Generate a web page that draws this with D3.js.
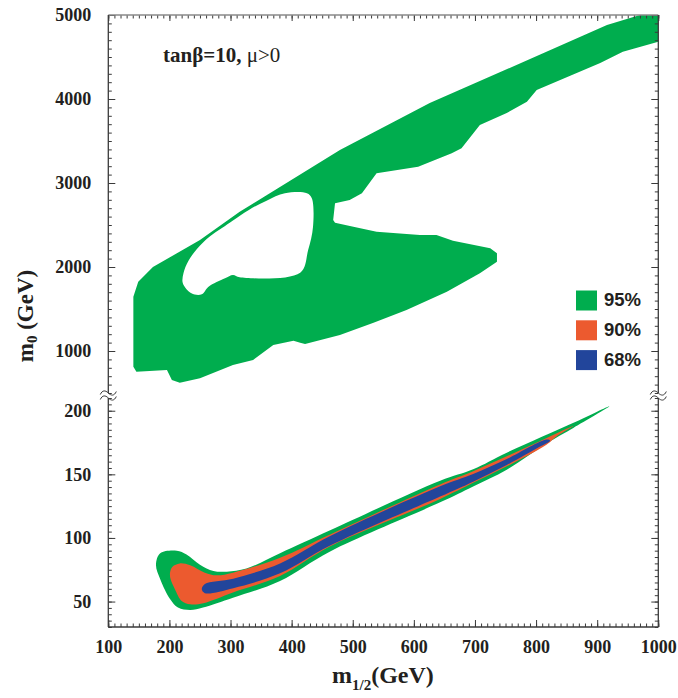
<!DOCTYPE html>
<html><head><meta charset="utf-8">
<script src="https://cdn.jsdelivr.net/npm/d3@7"></script>
<style>body{margin:0;background:#fff}svg{display:block}</style>
</head><body><svg id="c" width="678" height="698"></svg>
<script>
// ---------- data ----------
const xTicks = [100,200,300,400,500,600,700,800,900,1000];
const upperTicks = [1000,2000,3000,4000,5000];
const lowerTicks = [50,100,150,200];
const legendLabels = ["95%","90%","68%"];
const legendColors = ["#00ad4e","#ec5a2f","#22459b"];

// 95% region, upper (large m0) part: outer boundary [m1/2, m0]
const green95Upper = [[141,1646],[149,1825],[173,2000],[250,2321],[315,2658],[479,3393],[626,3952],[779,4440],[916,4881],[970,5000],[1000,5000],[1000,4682],[942,4563],[905,4429],[801,4107],[785,3968],[752,3833],[708,3690],[678,3413],[662,3354],[607,3194],[539,3115],[515,2877],[495,2798],[471,2758],[468,2560],[471,2527],[501,2480],[539,2420],[610,2381],[637,2381],[664,2313],[725,2223],[736,2163],[736,2063],[708,1925],[654,1706],[588,1488],[534,1337],[479,1190],[422,1083],[414,1099],[403,1123],[370,1071],[337,893],[304,833],[250,675],[217,622],[204,655],[196,774],[146,754],[141,813],[141,1210]];
// hole inside the upper 95% region
const green95UpperHole = [[223,1925],[222,1806],[236,1687],[253,1675],[264,1765],[291,1865],[304,1905],[315,1877],[414,1932],[427,2202],[435,2480],[433,2818],[425,2877],[389,2877],[359,2790],[330,2680],[304,2554],[286,2464],[266,2363],[245,2215],[231,2070]];
// lower (small m0) part
const green95Lower = [[178,79],[185,88],[212,90],[228,87],[250,79],[272,74],[294,73.5],[326,76],[381,88],[463,106],[643,145],[697,154],[752,167],[866,191.5],[920,203.5],[861,186.5],[823,176],[752,153.7],[697,140.5],[643,128],[463,89.4],[381,66.2],[304,53],[255,45.3],[234,43.4],[214,45.3],[201,52],[185,67.5]];
const orange90 = [[201,72.7],[205,77.4],[217,80],[234,78.5],[258,72.7],[277,70.6],[304,72.7],[381,84.5],[463,102.8],[643,142],[697,152.4],[752,164.2],[806,176],[861,188],[834,180],[817,173.3],[752,156.3],[697,143.3],[643,130.6],[463,93.4],[381,70.1],[304,57.1],[255.5,48.7],[234,47.9],[220,50.5],[209,59.7],[202,67.5]];
const blue68 = [[253,59.6],[258,63.8],[304.5,68],[381,80],[463,101.5],[643,140.6],[697,150.3],[752,162],[817,177.3],[823,176.5],[806.5,171.8],[752,157.3],[697,144.2],[643,132.5],[463,94],[381,72.2],[304.5,60.5],[258,56.6]];

// ---------- layout ----------
const L=108.3, R=658.3, T=15, B=627, BU=393, TL=398;
const svg = d3.select("#c");
const x = d3.scaleLinear().domain([100,1000]).range([L,R]);
const yU = d3.scaleLinear().domain([500,5000]).range([BU,T]);
const yL = d3.scaleLinear().domain([30,210]).range([B,TL]);

const defs = svg.append("defs");
defs.append("clipPath").attr("id","cu").append("rect").attr("x",L).attr("y",T).attr("width",R-L).attr("height",BU-T);
defs.append("clipPath").attr("id","cl").append("rect").attr("x",L).attr("y",TL).attr("width",R-L).attr("height",B-TL);

const lineU = d3.line().x(d=>x(d[0])).y(d=>yU(d[1])).curve(d3.curveLinearClosed);
const lineUh = d3.line().x(d=>x(d[0])).y(d=>yU(d[1])).curve(d3.curveCatmullRomClosed.alpha(0.5));
const lineL = d3.line().x(d=>x(d[0])).y(d=>yL(d[1])).curve(d3.curveCatmullRomClosed.alpha(0.5));

svg.append("path").attr("clip-path","url(#cu)")
  .attr("d", lineU(green95Upper) + lineUh(green95UpperHole))
  .attr("fill",legendColors[0]).attr("fill-rule","evenodd");
const gl = svg.append("g").attr("clip-path","url(#cl)");
gl.append("path").attr("d",lineL(green95Lower)).attr("fill",legendColors[0]);
gl.append("path").attr("d",lineL(orange90)).attr("fill",legendColors[1]);
gl.append("path").attr("d",lineL(blue68)).attr("fill",legendColors[2]);

// ---------- axes ----------
const axCol = "#3a3a3a";
const fontSerif = "'Liberation Serif','Times New Roman',serif";
function style(g){
  g.select(".domain").remove();
  g.selectAll(".tick line").attr("stroke",axCol).attr("stroke-width",1);
  g.selectAll(".tick text").attr("fill","#231f20").attr("font-family",fontSerif)
    .attr("font-weight","bold").attr("font-size","18px");
}
const xMinor = d3.range(100,1001,10);
const uMinor = d3.range(500,5001,100);
const lMinor = d3.range(30,211,5);

svg.append("g").attr("transform",`translate(0,${B})`).call(d3.axisBottom(x).tickValues(xMinor).tickSize(-3.5).tickFormat("")).call(style);
svg.append("g").attr("transform",`translate(0,${B})`).call(d3.axisBottom(x).tickValues(xTicks).tickSize(-7).tickPadding(13).tickFormat(d3.format("d"))).call(style);
svg.append("g").attr("transform",`translate(0,${T})`).call(d3.axisTop(x).tickValues(xMinor).tickSize(-3.5).tickFormat("")).call(style);
svg.append("g").attr("transform",`translate(0,${T})`).call(d3.axisTop(x).tickValues(xTicks).tickSize(-6).tickFormat("")).call(style);

svg.append("g").attr("transform",`translate(${L},0)`).call(d3.axisLeft(yU).tickValues(uMinor).tickSize(-3.5).tickFormat("")).call(style);
svg.append("g").attr("transform",`translate(${L},0)`).call(d3.axisLeft(yU).tickValues(upperTicks).tickSize(-7).tickPadding(17).tickFormat(d3.format("d"))).call(style);
svg.append("g").attr("transform",`translate(${L},0)`).call(d3.axisLeft(yL).tickValues(lMinor).tickSize(-3.5).tickFormat("")).call(style);
svg.append("g").attr("transform",`translate(${L},0)`).call(d3.axisLeft(yL).tickValues(lowerTicks).tickSize(-7).tickPadding(17).tickFormat(d3.format("d"))).call(style);

svg.append("g").attr("transform",`translate(${R},0)`).call(d3.axisRight(yU).tickValues(uMinor).tickSize(-3.5).tickFormat("")).call(style);
svg.append("g").attr("transform",`translate(${R},0)`).call(d3.axisRight(yU).tickValues(upperTicks).tickSize(-7).tickFormat("")).call(style);
svg.append("g").attr("transform",`translate(${R},0)`).call(d3.axisRight(yL).tickValues(lMinor).tickSize(-3.5).tickFormat("")).call(style);
svg.append("g").attr("transform",`translate(${R},0)`).call(d3.axisRight(yL).tickValues(lowerTicks).tickSize(-7).tickFormat("")).call(style);

// frame
const fr = svg.append("g").attr("stroke",axCol).attr("stroke-width",1.3).attr("fill","none");
fr.append("line").attr("x1",L).attr("x2",R).attr("y1",T).attr("y2",T).attr("stroke","#8a8a8a");
fr.append("line").attr("x1",L).attr("x2",R).attr("y1",B).attr("y2",B);
[L,R].forEach(xx=>{
  fr.append("line").attr("x1",xx).attr("x2",xx).attr("y1",T).attr("y2",BU);
  fr.append("line").attr("x1",xx).attr("x2",xx).attr("y1",TL).attr("y2",B);
  [BU,TL].forEach(yy=>{
    fr.append("path").attr("stroke-width",1)
      .attr("d",`M${xx-8},${yy+1.5} C${xx-6},${yy-3} ${xx-3},${yy-3} ${xx},${yy} S${xx+6},${yy+3} ${xx+8},${yy-1.5}`);
  });
});

// ---------- labels ----------
const yl = svg.append("text").attr("transform","translate(33,316) rotate(-90)")
  .attr("text-anchor","middle").attr("font-family",fontSerif).attr("font-weight","bold")
  .attr("font-size","23px").attr("fill","#231f20");
yl.append("tspan").text("m");
yl.append("tspan").attr("font-size","15px").attr("dy",4).text("0");
yl.append("tspan").attr("dy",-4).text("\u00a0(GeV)");

const xl = svg.append("text").attr("x",332).attr("y",683)
  .attr("font-family",fontSerif).attr("font-weight","bold")
  .attr("font-size","24px").attr("fill","#231f20");
xl.append("tspan").text("m");
xl.append("tspan").attr("font-size","15px").attr("dy",7).text("1/2");
xl.append("tspan").attr("dy",-7).text("(GeV)");

const tt = svg.append("text").attr("x",163).attr("y",62)
  .attr("font-family",fontSerif).attr("font-size","21px").attr("fill","#231f20");
tt.append("tspan").attr("font-weight","bold").text("tan\u03b2=10,");
tt.append("tspan").text(" \u03bc>0");

// legend
const lg = svg.append("g");
legendLabels.forEach((lab,i)=>{
  const yy = 290.5 + i*29.8;
  lg.append("rect").attr("x",576).attr("y",yy).attr("width",21).attr("height",20).attr("fill",legendColors[i]);
  lg.append("text").attr("x",604).attr("y",yy+15.5)
    .attr("font-family","'Liberation Sans',Arial,Helvetica,sans-serif").attr("font-weight","bold")
    .attr("font-size","18.5px").attr("fill","#231f20").text(lab);
});
</script></body></html>
